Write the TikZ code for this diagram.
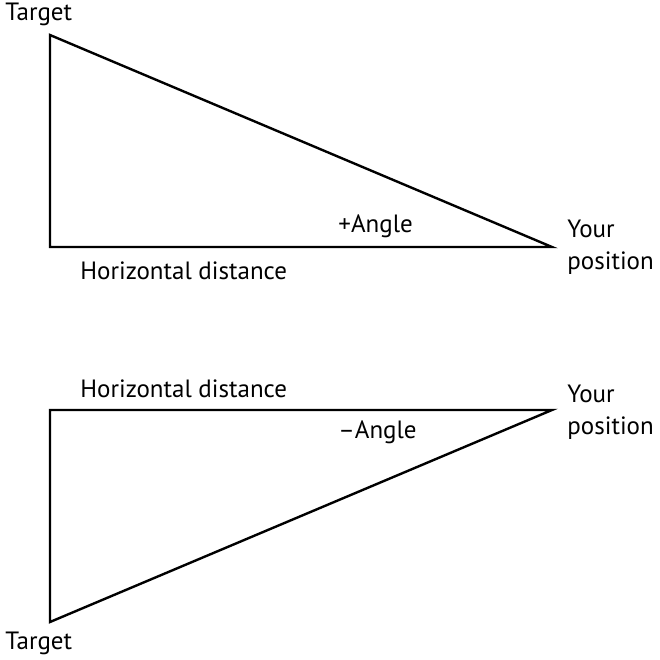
\documentclass[tikz,border=0pt]{standalone}
\usepackage{fontspec}
\setmainfont{PT Sans}
\begin{document}
\begin{tikzpicture}[x=0.5pt,y=-0.5pt,
  edge/.style={line width=1.2pt,line join=miter},
  lbl/.style={font=\fontsize{12.5}{16}\selectfont,inner sep=0pt},
  poslbl/.style={lbl,align=left}]
\useasboundingbox (0,0) rectangle (660,660);
% top triangle
\coordinate (t1) at (50,35);
\coordinate (c1) at (50,247);
\coordinate (p1) at (552,247);
\draw[edge] (t1) -- (c1) -- (p1) -- cycle;
\node[lbl,anchor=west] (tgt1) at (5,14) {Target};
\node[lbl,anchor=west] (hd1) at (80,271) {Horizontal distance};
\node[lbl,anchor=west] (ang1) at (338,226) {+Angle};
\node[poslbl,anchor=west] (you1) at (567,247) {Your\\position};
% bottom triangle
\coordinate (c2) at (50,410);
\coordinate (p2) at (552,410);
\coordinate (t2) at (50,622);
\draw[edge] (c2) -- (p2) -- (t2) -- cycle;
\node[lbl,anchor=west] (hd2) at (80,389) {Horizontal distance};
\node[lbl,anchor=west] (ang2) at (338,432) {–Angle};
\node[poslbl,anchor=west] (you2) at (567,412) {Your\\position};
\node[lbl,anchor=west] (tgt2) at (5,643) {Target};
\end{tikzpicture}
\end{document}
